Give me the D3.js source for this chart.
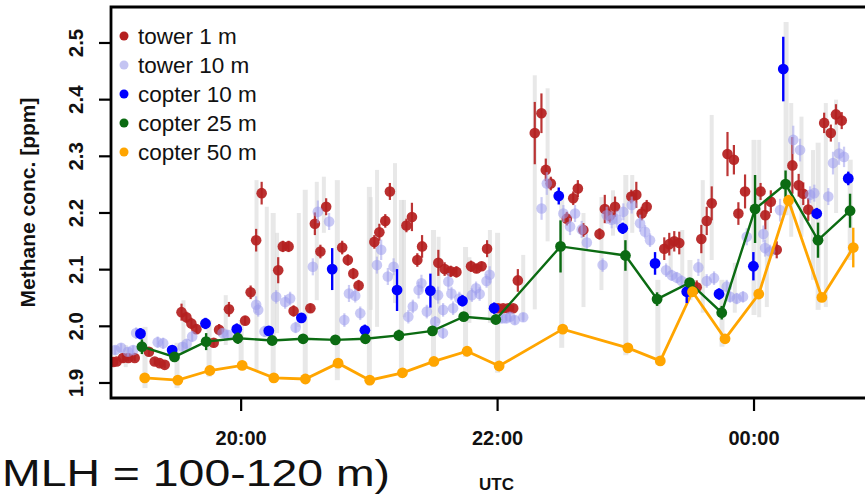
<!DOCTYPE html>
<html><head><meta charset="utf-8">
<script src="https://cdn.jsdelivr.net/npm/d3@7"></script>
<style>body{margin:0;background:#fff;overflow:hidden} svg{display:block}</style>
</head><body>
<svg id="chart" width="865" height="495"></svg>
<script>
// Times are decimal hours UTC (24.25 = 00:15 on the next day), concentrations in ppm.

// tower 1 m
const tower1Time = [19.002,19.029,19.078,19.121,19.170,19.281,19.326,19.365,19.404,19.535,19.573,19.612,19.651,19.786,19.828,19.905,20.031,20.074,20.117,20.160,20.289,20.325,20.370,20.409,20.540,20.575,20.618,20.663,20.788,20.832,20.875,20.916,21.039,21.078,21.124,21.160,21.289,21.332,21.374,21.411,21.538,21.587,21.634,21.679,21.793,21.836,21.875,21.918,22.004,22.043,22.083,22.122,22.158,22.290,22.342,22.376,22.415,22.540,22.590,22.626,22.669,22.795,22.836,22.875,22.916,23.043,23.082,23.124,23.163,23.300,23.339,23.378,23.417,23.553,23.589,23.631,23.670,23.793,23.843,23.878,23.930,24.051,24.088,24.131,24.177,24.299,24.348,24.384,24.423,24.547,24.599,24.639,24.684];
const tower1Value = [1.937,1.938,1.944,1.944,1.944,1.955,1.938,1.935,1.932,2.025,2.016,2.005,1.995,1.971,1.994,2.030,2.010,2.060,2.152,2.235,2.099,2.141,2.141,2.027,2.032,2.181,2.132,2.211,2.139,2.117,2.093,2.072,2.149,2.166,2.186,2.238,2.178,2.193,2.117,2.141,2.112,2.101,2.097,2.096,2.106,2.102,2.106,2.137,2.032,2.032,2.032,2.032,2.081,2.341,2.376,2.276,2.252,2.190,2.226,2.243,2.170,2.163,2.207,2.195,2.211,2.229,2.232,2.199,2.211,2.137,2.145,2.150,2.147,2.069,2.154,2.186,2.217,2.304,2.294,2.199,2.238,2.238,2.196,2.220,2.135,2.284,2.249,2.234,2.206,2.359,2.341,2.374,2.363];
const tower1Err = [0.006,0.006,0.008,0.006,0.006,0.008,0.006,0.006,0.006,0.015,0.010,0.010,0.008,0.008,0.010,0.013,0.008,0.012,0.020,0.020,0.023,0.010,0.010,0.010,0.008,0.020,0.012,0.015,0.012,0.010,0.010,0.010,0.012,0.015,0.012,0.015,0.012,0.025,0.012,0.020,0.023,0.012,0.010,0.010,0.010,0.008,0.008,0.015,0.006,0.006,0.006,0.006,0.020,0.055,0.035,0.020,0.012,0.012,0.012,0.015,0.012,0.010,0.025,0.012,0.018,0.012,0.023,0.012,0.012,0.020,0.020,0.018,0.020,0.012,0.025,0.025,0.030,0.039,0.026,0.020,0.030,0.015,0.025,0.020,0.015,0.050,0.020,0.020,0.020,0.018,0.015,0.018,0.015];

// tower 10 m
const tower10Time = [19.018,19.064,19.117,19.158,19.181,19.349,19.392,19.544,19.575,19.618,19.856,19.895,20.117,20.133,20.182,20.273,20.343,20.382,20.425,20.559,20.598,20.686,20.805,20.841,20.890,20.929,21.059,21.092,21.144,21.189,21.304,21.339,21.384,21.406,21.448,21.513,21.536,21.574,21.575,21.616,21.640,21.653,21.702,21.799,21.832,21.860,21.914,21.938,22.033,22.069,22.097,22.134,22.200,22.343,22.384,22.513,22.565,22.604,22.656,22.696,22.819,22.851,22.890,22.929,22.981,23.046,23.111,23.150,23.189,23.314,23.358,23.397,23.436,23.566,23.631,23.688,23.787,23.813,23.865,23.914,23.943,24.073,24.086,24.125,24.203,24.306,24.359,24.437,24.470,24.579,24.616,24.663,24.702];
const tower10Value = [1.958,1.962,1.955,1.958,1.988,1.972,1.970,1.964,1.969,1.982,1.988,1.985,2.038,2.029,1.991,2.052,2.043,2.049,1.998,2.105,2.202,2.185,2.011,2.058,2.054,2.023,2.108,2.135,2.088,2.105,2.017,2.035,2.064,2.076,2.026,2.008,2.055,1.988,2.029,2.079,2.058,2.032,2.049,2.055,2.067,2.057,2.080,2.091,2.014,2.014,2.017,2.011,2.016,2.208,2.252,2.199,2.176,2.199,2.171,2.148,2.108,2.196,2.188,2.189,2.202,2.214,2.182,2.167,2.152,2.099,2.090,2.086,2.080,2.104,2.080,2.085,2.070,2.052,2.049,2.052,2.158,2.163,2.138,2.132,2.205,2.329,2.311,2.232,2.235,2.229,2.288,2.305,2.299];
const tower10Err = [0.008,0.008,0.008,0.008,0.010,0.010,0.010,0.008,0.008,0.010,0.008,0.008,0.015,0.012,0.010,0.012,0.012,0.012,0.010,0.015,0.020,0.015,0.012,0.015,0.012,0.012,0.015,0.018,0.015,0.015,0.012,0.012,0.015,0.015,0.012,0.010,0.015,0.010,0.012,0.015,0.012,0.012,0.012,0.012,0.012,0.012,0.012,0.015,0.008,0.008,0.008,0.008,0.008,0.020,0.020,0.015,0.015,0.015,0.015,0.015,0.012,0.015,0.015,0.015,0.015,0.015,0.015,0.012,0.012,0.012,0.010,0.010,0.010,0.015,0.012,0.012,0.012,0.010,0.010,0.010,0.015,0.015,0.015,0.012,0.020,0.025,0.020,0.015,0.015,0.015,0.020,0.020,0.018];

// min-max range of the tower record (grey bars)
const towerRangeTime = [19.10,19.55,19.88,20.12,20.20,20.28,20.45,20.59,20.645,21.01,21.06,21.20,21.27,21.54,21.78,21.94,22.20,22.29,22.39,22.67,22.81,22.90,23.05,23.35,23.44,23.60,23.67,23.85,24.04,24.10,24.29,24.37,24.46,24.56,24.64];
const towerRangeLow  = [1.928,1.958,1.967,1.923,1.981,1.988,1.999,2.046,2.165,2.029,1.999,2.041,2.016,2.006,2.006,2.006,2.011,2.030,2.150,2.034,2.064,2.160,2.165,2.087,2.076,2.024,2.117,2.024,2.016,2.034,2.158,2.158,2.082,2.034,2.200];
const towerRangeHigh = [1.967,2.046,2.055,2.258,2.211,2.165,2.200,2.255,2.264,2.228,2.276,2.288,2.223,2.158,2.122,2.170,2.126,2.443,2.420,2.200,2.228,2.240,2.267,2.158,2.170,2.258,2.373,2.112,2.329,2.188,2.394,2.370,2.311,2.394,2.400];

// copter flights (one profile every 15 min)
const copter10Time = [19.215,19.462,19.722,19.966,20.216,20.470,20.710,20.965,21.216,21.476,21.726,21.973,22.477,22.976,23.228,23.475,23.727,23.995,24.228,24.489,24.735];
const copter10Value = [1.987,1.958,2.005,1.995,1.992,2.015,2.101,1.993,2.064,2.063,2.045,2.032,2.230,2.173,2.111,2.061,2.057,2.106,2.454,2.199,2.261];
const copter10Err = [0.010,0.008,0.010,0.010,0.008,0.008,0.037,0.010,0.037,0.030,0.010,0.010,0.015,0.010,0.020,0.020,0.010,0.025,0.057,0.010,0.012];

const copter25Time = [19.226,19.480,19.727,19.974,20.242,20.483,20.735,20.969,21.230,21.492,21.736,21.986,22.491,22.997,23.244,23.498,23.748,24.008,24.246,24.499,24.749];
const copter25Value = [1.964,1.946,1.973,1.979,1.975,1.978,1.976,1.978,1.984,1.992,2.017,2.012,2.141,2.125,2.048,2.077,2.024,2.207,2.251,2.152,2.204];
const copter25Err = [0.013,0.008,0.015,0.010,0.005,0.005,0.005,0.006,0.010,0.008,0.008,0.008,0.046,0.027,0.012,0.006,0.012,0.060,0.024,0.031,0.030];

const copter50Time = [19.248,19.506,19.756,20.008,20.255,20.501,20.756,21.003,21.258,21.503,21.762,22.012,22.508,23.016,23.269,23.520,23.774,24.037,24.269,24.529,24.774];
const copter50Value = [1.909,1.905,1.922,1.931,1.909,1.907,1.935,1.905,1.918,1.938,1.956,1.930,1.995,1.962,1.939,2.061,1.978,2.057,2.222,2.051,2.139];
const copter50Err = [0.005,0.005,0.005,0.005,0.005,0.005,0.006,0.005,0.005,0.006,0.006,0.005,0.006,0.006,0.006,0.008,0.006,0.008,0.010,0.006,0.035];

// full concentration range seen during each flight window (grey bars)
const rangeTime = [19.25,19.5,19.75,20.0,20.25,20.5,20.75,21.0,21.25,21.5,21.75,22.0,22.5,23.0,23.25,23.5,23.75,24.0,24.25,24.5,24.75];
const rangeLow  = [1.891,1.891,1.911,1.923,1.900,1.900,1.905,1.896,1.909,1.928,1.946,1.918,1.962,1.949,1.932,2.046,1.964,2.020,2.196,2.029,2.117];
const rangeHigh = [1.999,1.971,2.011,2.011,2.200,2.241,2.258,2.246,2.223,2.170,2.140,2.165,2.232,2.267,2.082,2.117,2.082,2.329,2.537,2.324,2.294];

const yTicks = [1.9, 2.0, 2.1, 2.2, 2.3, 2.4, 2.5];
const xTicks = [20, 22, 24];
const xTickLabels = ["20:00", "22:00", "00:00"];

const seriesNames = ["tower 1 m", "tower 10 m", "copter 10 m", "copter 25 m", "copter 50 m"];
const seriesColors = ["#b52020", "#c4c4f2", "#0000ff", "#0b6b12", "#ffa500"];

const zip = (t, v, e) => t.map((d, i) => ({t: d, v: v[i], e: e[i]}));
const tower1 = zip(tower1Time, tower1Value, tower1Err);
const tower10 = zip(tower10Time, tower10Value, tower10Err);
const copter10 = zip(copter10Time, copter10Value, copter10Err);
const copter25 = zip(copter25Time, copter25Value, copter25Err);
const copter50 = zip(copter50Time, copter50Value, copter50Err);
const ranges = rangeTime.map((t, i) => ({t, lo: rangeLow[i], hi: rangeHigh[i]}));
const towerRanges = towerRangeTime.map((t, i) => ({t, lo: towerRangeLow[i], hi: towerRangeHigh[i]}));

const svg = d3.select("#chart");
const pL = 111, pT = 7, pB = 398, pR = 882;

const x = d3.scaleLinear().domain([18.985, 25]).range([pL, 882.25]);
const y = d3.scaleLinear().domain([1.8735, 2.5635]).range([pB, pT]);

svg.append("clipPath").attr("id", "plotclip")
  .append("rect").attr("x", pL).attr("y", pT).attr("width", pR - pL).attr("height", pB - pT);

const plot = svg.append("g").attr("clip-path", "url(#plotclip)");

// grey range bars
function rangeBars(g, data, w) {
  g.append("g").selectAll("rect").data(data).join("rect")
    .attr("x", d => x(d.t) - w / 2).attr("width", w)
    .attr("y", d => y(d.hi)).attr("height", d => y(d.lo) - y(d.hi))
    .attr("fill", "#d8d8d8").attr("opacity", 0.6);
}
rangeBars(plot, towerRanges, 4);
rangeBars(plot, ranges, 5);

function errorBars(g, data, color, width, opacity) {
  g.append("g").selectAll("line").data(data).join("line")
    .attr("x1", d => x(d.t)).attr("x2", d => x(d.t))
    .attr("y1", d => y(d.v - d.e)).attr("y2", d => y(d.v + d.e))
    .attr("stroke", color).attr("stroke-width", width).attr("opacity", opacity);
}
function dots(g, data, color, r, opacity) {
  g.append("g").selectAll("circle").data(data).join("circle")
    .attr("cx", d => x(d.t)).attr("cy", d => y(d.v)).attr("r", r)
    .attr("fill", color).attr("opacity", opacity);
}

// tower 1 m
errorBars(plot, tower1, "#b52020", 2.2, 0.9);
dots(plot, tower1, "#b52020", 5.3, 0.93);
// tower 10 m (translucent)
errorBars(plot, tower10, "#a9a9ee", 2.2, 0.6);
dots(plot, tower10, "#9c9cec", 5.3, 0.55);

// copter profiles
const line = d3.line().x(d => x(d.t)).y(d => y(d.v));
plot.append("path").datum(copter25).attr("d", line)
  .attr("fill", "none").attr("stroke", "#0b6b12").attr("stroke-width", 2.4);
plot.append("path").datum(copter50).attr("d", line)
  .attr("fill", "none").attr("stroke", "#ffa500").attr("stroke-width", 2.8);

errorBars(plot, copter10, "#0000ff", 2.4, 1);
dots(plot, copter10, "#0000ff", 5.4, 1);
errorBars(plot, copter25, "#0b6b12", 2.4, 1);
dots(plot, copter25, "#0b6b12", 5.4, 1);
errorBars(plot, copter50, "#ffa500", 2.4, 1);
dots(plot, copter50, "#ffa500", 5.4, 1);

// frame
svg.append("path")
  .attr("d", `M${pR},${pT}H${pL}V${pB}H${pR}`)
  .attr("fill", "none").attr("stroke", "#000").attr("stroke-width", 2.8);

// y axis
const yAxis = svg.append("g");
yAxis.selectAll("line").data(yTicks).join("line")
  .attr("x1", pL - 12).attr("x2", pL).attr("y1", d => y(d)).attr("y2", d => y(d))
  .attr("stroke", "#000").attr("stroke-width", 2.2);
yAxis.selectAll("text").data(yTicks).join("text")
  .attr("transform", d => `translate(83,${y(d)}) rotate(-90)`)
  .attr("text-anchor", "middle")
  .attr("font-family", "Liberation Sans, Arial, sans-serif").attr("font-weight", "bold")
  .attr("font-size", 20.5).attr("fill", "#111")
  .text(d => d3.format(".1f")(d));

svg.append("text")
  .attr("transform", `translate(35,${(pT + pB) / 2}) rotate(-90)`)
  .attr("text-anchor", "middle")
  .attr("font-family", "Liberation Sans, Arial, sans-serif").attr("font-weight", "bold")
  .attr("font-size", 21).attr("fill", "#111")
  .text("Methane conc. [ppm]");

// x axis
const xAxis = svg.append("g");
xAxis.selectAll("line").data(xTicks).join("line")
  .attr("x1", d => x(d)).attr("x2", d => x(d)).attr("y1", pB).attr("y2", pB + 13)
  .attr("stroke", "#000").attr("stroke-width", 2.2);
xAxis.selectAll("text").data(xTicks).join("text")
  .attr("x", d => x(d)).attr("y", 445)
  .attr("text-anchor", "middle")
  .attr("font-family", "Liberation Sans, Arial, sans-serif").attr("font-weight", "bold")
  .attr("font-size", 20).attr("fill", "#111")
  .text((d, i) => xTickLabels[i]);

svg.append("text")
  .attr("x", (pL + pR) / 2).attr("y", 490)
  .attr("text-anchor", "middle")
  .attr("font-family", "Liberation Sans, Arial, sans-serif").attr("font-weight", "bold")
  .attr("font-size", 17).attr("fill", "#111")
  .text("UTC");

// legend
const legend = svg.append("g");
seriesNames.forEach((name, i) => {
  const ly = 36 + i * 29;
  legend.append("circle").attr("cx", 124).attr("cy", ly).attr("r", 4.5)
    .attr("fill", seriesColors[i]);
  legend.append("text").attr("x", 138).attr("y", ly + 7.5)
    .attr("font-family", "Liberation Sans, Arial, sans-serif")
    .attr("font-size", 22.5).attr("fill", "#111")
    .text(name);
});

// caption fragment below the plot
svg.append("text")
  .attr("x", 2).attr("y", 486)
  .attr("font-family", "Liberation Sans, Arial, sans-serif")
  .attr("font-size", 37).attr("fill", "#111")
  .attr("textLength", 388).attr("lengthAdjust", "spacingAndGlyphs")
  .text("MLH = 100-120 m)");
</script>
</body></html>
